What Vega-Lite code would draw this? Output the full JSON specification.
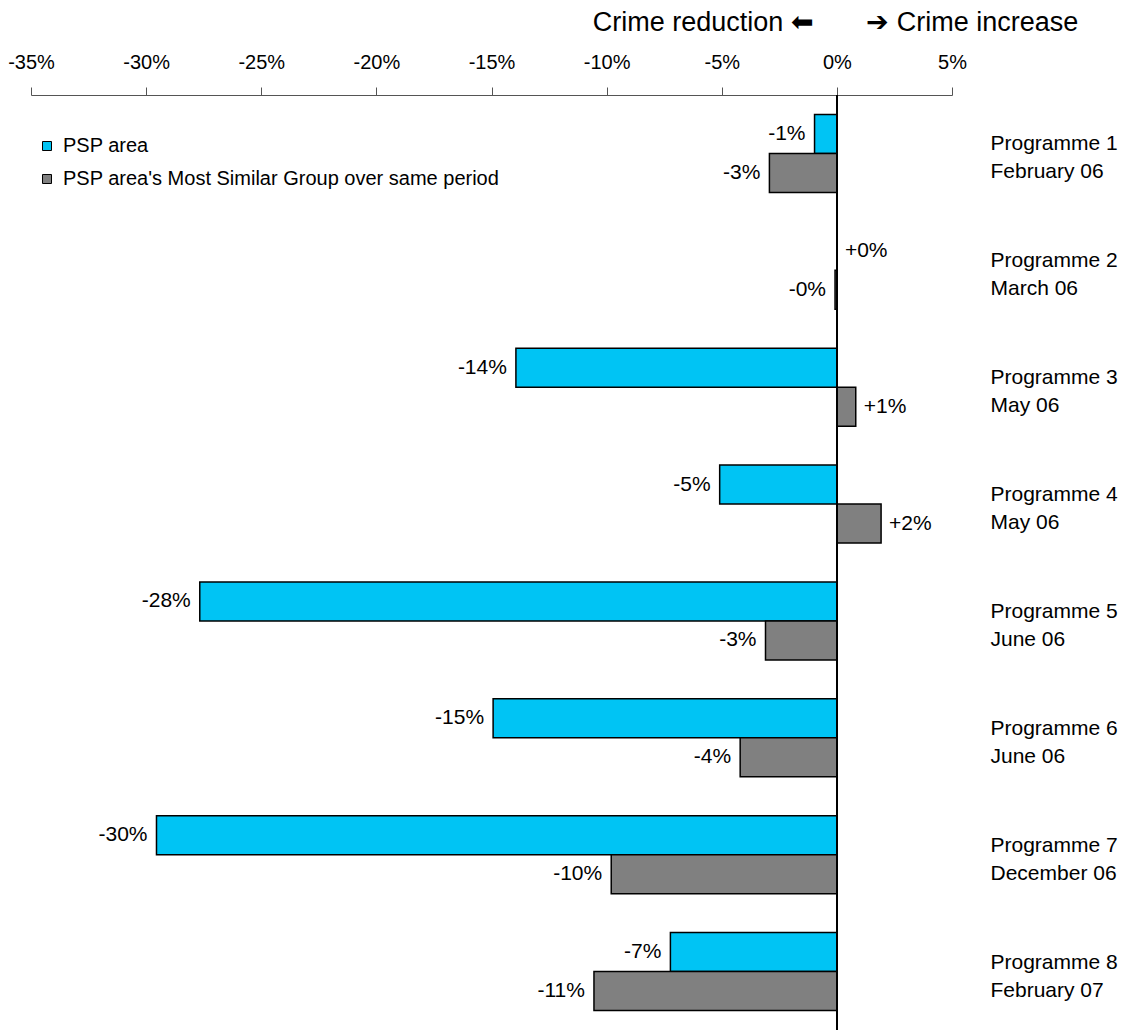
{
  "$schema": "https://vega.github.io/schema/vega-lite/v6.json",
  "width": 921,
  "height": 935,
  "autosize": {"type": "none"},
  "padding": {"left": 31, "top": 95, "right": 182, "bottom": 2},
  "background": "white",
  "title": {
    "text": "Crime reduction ⬅\u00a0\u00a0\u00a0\u00a0\u00a0\u00a0\u00a0➔ Crime increase",
    "anchor": "middle",
    "dx": 344,
    "offset": 15,
    "font": "Liberation Sans",
    "fontSize": 27,
    "fontWeight": "normal",
    "color": "black"
  },
  "config": {
    "view": {"stroke": null},
    "font": "Liberation Sans",
    "text": {"font": "Liberation Sans"}
  },
  "data": {
    "values": [
      {"programme": "Programme 1|February 06", "series": "PSP area", "value": -0.97, "label": "-1%"},
      {"programme": "Programme 1|February 06", "series": "PSP area's Most Similar Group over same period", "value": -2.93, "label": "-3%"},
      {"programme": "Programme 2|March 06", "series": "PSP area", "value": 0, "label": "+0%"},
      {"programme": "Programme 2|March 06", "series": "PSP area's Most Similar Group over same period", "value": -0.08, "label": "-0%"},
      {"programme": "Programme 3|May 06", "series": "PSP area", "value": -13.94, "label": "-14%"},
      {"programme": "Programme 3|May 06", "series": "PSP area's Most Similar Group over same period", "value": 0.82, "label": "+1%"},
      {"programme": "Programme 4|May 06 ", "series": "PSP area", "value": -5.09, "label": "-5%"},
      {"programme": "Programme 4|May 06 ", "series": "PSP area's Most Similar Group over same period", "value": 1.92, "label": "+2%"},
      {"programme": "Programme 5|June 06", "series": "PSP area", "value": -27.67, "label": "-28%"},
      {"programme": "Programme 5|June 06", "series": "PSP area's Most Similar Group over same period", "value": -3.1, "label": "-3%"},
      {"programme": "Programme 6|June 06 ", "series": "PSP area", "value": -14.93, "label": "-15%"},
      {"programme": "Programme 6|June 06 ", "series": "PSP area's Most Similar Group over same period", "value": -4.2, "label": "-4%"},
      {"programme": "Programme 7|December 06", "series": "PSP area", "value": -29.55, "label": "-30%"},
      {"programme": "Programme 7|December 06", "series": "PSP area's Most Similar Group over same period", "value": -9.8, "label": "-10%"},
      {"programme": "Programme 8|February 07", "series": "PSP area", "value": -7.23, "label": "-7%"},
      {"programme": "Programme 8|February 07", "series": "PSP area's Most Similar Group over same period", "value": -10.55, "label": "-11%"}
    ]
  },
  "encoding": {
    "y": {
      "field": "programme",
      "type": "nominal",
      "sort": null,
      "scale": {"paddingInner": 0.333, "paddingOuter": 0.1667},
      "axis": {
        "orient": "right",
        "title": null,
        "domain": false,
        "ticks": false,
        "labelAlign": "left",
        "labelPadding": 38,
        "labelFontSize": 21,
        "labelLineHeight": 28,
        "labelOffset": -9,
        "labelColor": "black",
        "labelFont": "Liberation Sans",
        "labelExpr": "split(datum.label, '|')"
      }
    },
    "yOffset": {
      "field": "series",
      "type": "nominal",
      "sort": ["PSP area", "PSP area's Most Similar Group over same period"],
      "scale": {"paddingInner": 0, "paddingOuter": 0}
    }
  },
  "layer": [
    {
      "mark": {"type": "bar", "stroke": "black", "strokeWidth": 1.5},
      "encoding": {
        "x": {
          "field": "value",
          "type": "quantitative",
          "scale": {"domain": [-35, 5], "nice": false, "zero": false},
          "axis": {
            "orient": "top",
            "title": null,
            "grid": false,
            "values": [-35, -30, -25, -20, -15, -10, -5, 0, 5],
            "labelExpr": "datum.value + '%'",
            "labelFontSize": 20,
            "labelColor": "black",
            "labelFont": "Liberation Sans",
            "labelPadding": 15,
            "tickSize": 8,
            "tickColor": "#555555",
            "domainColor": "#555555",
            "labelFlush": false
          }
        },
        "x2": {"datum": 0},
        "fill": {
          "field": "series",
          "type": "nominal",
          "sort": ["PSP area", "PSP area's Most Similar Group over same period"],
          "scale": {"domain": ["PSP area", "PSP area's Most Similar Group over same period"], "range": ["#00C4F4", "#808080"]},
          "legend": {
            "title": null,
            "orient": "none",
            "legendX": 6,
            "legendY": 41,
            "symbolType": "square",
            "symbolSize": 81,
            "symbolStrokeColor": "black",
            "symbolStrokeWidth": 1,
            "labelFontSize": 20,
            "labelFont": "Liberation Sans",
            "labelColor": "black",
            "labelOffset": 6,
            "labelLimit": 0,
            "rowPadding": 13,
            "padding": 0
          }
        }
      }
    },
    {
      "mark": {"type": "rule", "color": "black", "strokeWidth": 1},
      "encoding": {"x": {"datum": 0}, "y": null, "yOffset": null}
    },
    {
      "transform": [{"filter": "indexof(datum.label, '+') != 0"}],
      "mark": {"type": "text", "align": "right", "baseline": "middle", "dx": -9, "fontSize": 21, "color": "black"},
      "encoding": {
        "x": {"field": "value", "type": "quantitative"},
        "text": {"field": "label"}
      }
    },
    {
      "transform": [{"filter": "indexof(datum.label, '+') == 0"}],
      "mark": {"type": "text", "align": "left", "baseline": "middle", "dx": 8, "fontSize": 21, "color": "black"},
      "encoding": {
        "x": {"field": "value", "type": "quantitative"},
        "text": {"field": "label"}
      }
    }
  ]
}
